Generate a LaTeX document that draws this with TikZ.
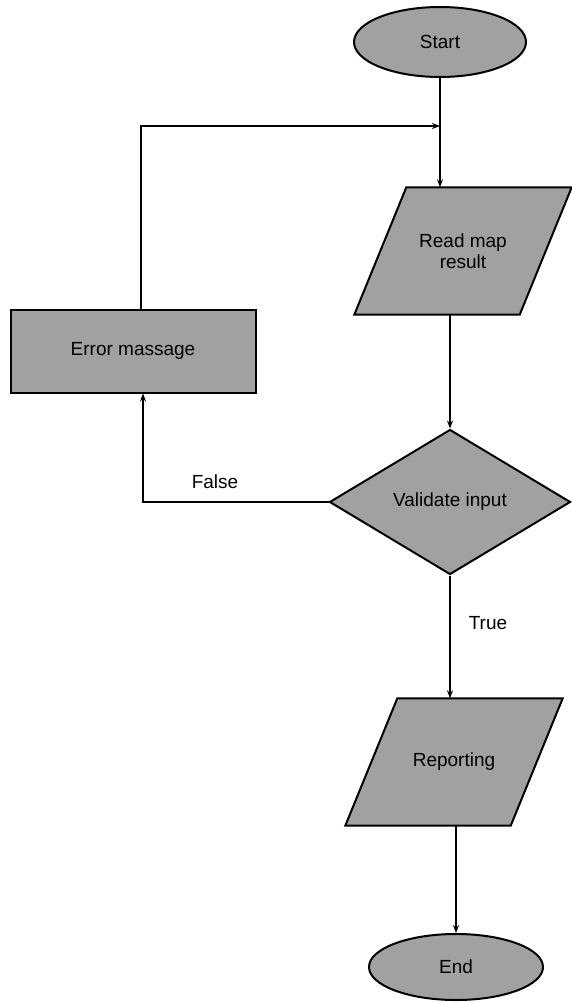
\documentclass[tikz,border=0pt]{standalone}
\usepackage{fontspec}
\setmainfont{Liberation Sans}
\usetikzlibrary{shapes.geometric,arrows.meta,calc,backgrounds}
\begin{document}
\begin{tikzpicture}[x=1pt,y=-1pt,
  every node/.style={font=\fontsize{19}{21}\selectfont},
  box/.style={draw=black,line width=2pt,fill=black!37,inner sep=0pt},
  shade/.style={draw=black,line width=2pt,fill=black!37,line join=miter},
  oval/.style={box,ellipse},
  io/.style={inner sep=0pt,minimum width=217,minimum height=127,align=center},
  decision/.style={box,diamond,aspect=1.66,minimum width=241,minimum height=145},
  process/.style={box,rectangle,minimum width=245,minimum height=83},
  link/.style={line width=1.5pt,-{Stealth[length=8pt,width=6pt]}},
  lbl/.style={inner sep=0pt}]
  \useasboundingbox (0,0) rectangle (571,1003);

  % flow nodes
  \node[oval,minimum width=172,minimum height=70] (start) at (440,42) {Start};
  \node[io] (read) at (463,251) {Read map\\result};
  \node[decision] (valid) at (450,502) {Validate input};
  \node[io] (report) at (454,762) {Reporting};
  \node[oval,minimum width=174,minimum height=66] (end) at (456,967) {End};
  \node[process] (error) at (133,351) {Error massage};

  % parallelogram outlines behind the input/output texts
  \begin{scope}[on background layer]
    \foreach \n in {read,report}
      \draw[shade] (\n.south west) -- ($(\n.north west)+(52,0)$)
        -- (\n.north east) -- ($(\n.south east)+(-52,0)$) -- cycle;
  \end{scope}

  % branch labels
  \node[lbl] (false) at (215,482) {False};
  \node[lbl] (true) at (488,623) {True};

  % main flow
  \coordinate (join) at (start.south |- 0,126);
  \draw[link] (start.south) -- (start.south |- read.north);
  \draw[link] (valid.north |- read.south) -- (valid.north);
  \draw[link] (valid.south) -- (valid.south |- report.north);
  \draw[link] (end.north |- report.south) -- (end.north);

  % false branch and loop back
  \draw[link] (valid.west) -| ([xshift=10]error.south);
  \draw[link] ([xshift=8]error.north) |- (join);
\end{tikzpicture}
\end{document}
